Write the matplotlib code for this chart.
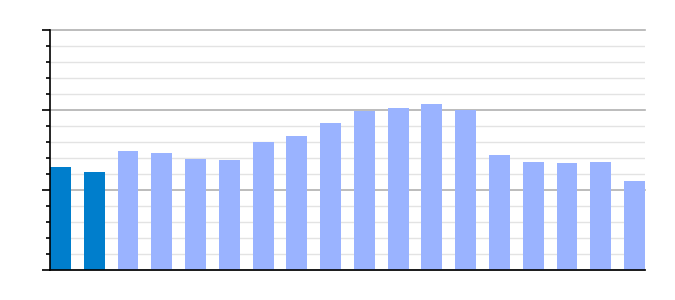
import matplotlib
matplotlib.use("Agg")
import matplotlib.pyplot as plt
from matplotlib.ticker import MultipleLocator

categories = list(range(18))
values = [12.9, 12.25, 14.9, 14.65, 13.9, 13.75, 16.0, 16.75, 18.4, 19.9,
          20.25, 20.75, 20.0, 14.4, 13.5, 13.4, 13.5, 11.15]
highlight = [True, True] + [False] * 16

dark = "#007ECC"
light = "#9AB3FF"
colors = [dark if h else light for h in highlight]

fig = plt.figure(figsize=(6.75, 3.0), dpi=100)
ax = fig.add_axes([50 / 675, 30 / 300, 595 / 675, 240 / 300])
ax.bar(categories, values, width=0.62, color=colors, zorder=3)
ax.set_xlim(-0.31, len(categories) - 1 + 0.31)
ax.set_ylim(0, 30)
ax.yaxis.set_major_locator(MultipleLocator(10))
ax.yaxis.set_minor_locator(MultipleLocator(2))
ax.grid(which="major", axis="y", color="#B0B0B0", linewidth=1.2, zorder=1)
ax.grid(which="minor", axis="y", color="#E3E3E3", linewidth=1.0, zorder=0)
for gl in ax.get_ygridlines():
    gl.set_clip_on(False)
ax.set_xticks([])
ax.tick_params(axis="y", which="major", length=6, width=1.2, direction="out", labelleft=False)
ax.tick_params(axis="y", which="minor", length=3, width=1.2, direction="out")
for s in ["top", "right"]:
    ax.spines[s].set_visible(False)
ax.spines["left"].set_linewidth(1.2)
ax.spines["bottom"].set_linewidth(1.2)
ax.spines["left"].set_zorder(5)
ax.spines["bottom"].set_zorder(5)
fig.savefig("out.png", dpi=100)
